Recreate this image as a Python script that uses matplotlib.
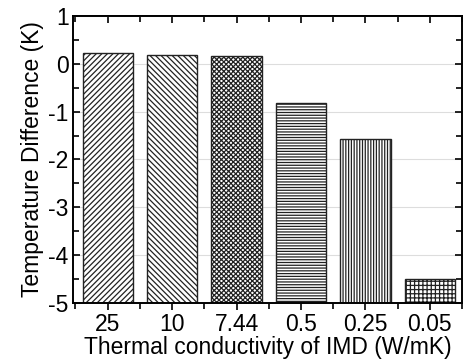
import matplotlib.pyplot as plt
from matplotlib.ticker import MultipleLocator

plt.rcParams['font.family'] = ['Liberation Sans', 'DejaVu Sans']
plt.rcParams['hatch.linewidth'] = 0.9
plt.rcParams['axes.unicode_minus'] = False

# data
labels = ["25", "10", "7.44", "0.5", "0.25", "0.05"]
temp_diff = [0.23, 0.19, 0.16, -0.81, -1.57, -4.49]
hatches = ["//////", "\\\\\\\\\\\\", "xxxxxxx", "------", "||||||", "++++"]

fig = plt.figure(figsize=(4.64, 3.6), dpi=100)
ax = fig.add_axes([0.157, 0.158, 0.839, 0.798])

x = list(range(1, len(labels) + 1))
bottom = -5
for xi, v, h in zip(x, temp_diff, hatches):
    ax.bar(xi, v - bottom, bottom=bottom, width=0.78, color="white",
           edgecolor="#222222", hatch=h, linewidth=1.0, zorder=2)

ax.set_xlim(0.46, 6.5)
ax.set_ylim(-5, 1)
ax.set_xticks(x)
ax.set_xticklabels(labels)
ax.xaxis.set_minor_locator(MultipleLocator(0.5))
ax.yaxis.set_major_locator(MultipleLocator(1))
ax.yaxis.set_minor_locator(MultipleLocator(0.5))
ax.grid(axis="y", color="#dddddd", linewidth=0.8, zorder=0)
ax.set_axisbelow(True)

# y ticks inward on both sides, x ticks outward at the bottom
ax.tick_params(axis="y", which="both", direction="in", right=True,
               labelsize=16.5, width=1.2, pad=3)
ax.tick_params(axis="x", which="both", direction="out", labelsize=16.5,
               width=1.2, pad=2)
ax.tick_params(which="major", length=5)
ax.tick_params(which="minor", length=4)

# inward ticks along the top spine
top = ax.secondary_xaxis("top")
top.set_xticks(x)
top.xaxis.set_minor_locator(MultipleLocator(0.5))
top.tick_params(which="both", direction="in", labeltop=False, width=1.2)
top.tick_params(which="major", length=5)
top.tick_params(which="minor", length=4)
top.spines["top"].set_linewidth(1.4)

for s in ax.spines.values():
    s.set_linewidth(1.4)

ax.set_xlabel("Thermal conductivity of IMD (W/mK)", fontsize=16.5, labelpad=0)
ax.set_ylabel("Temperature Difference (K)", fontsize=16.5, labelpad=3)

fig.savefig("out.png", dpi=100)
